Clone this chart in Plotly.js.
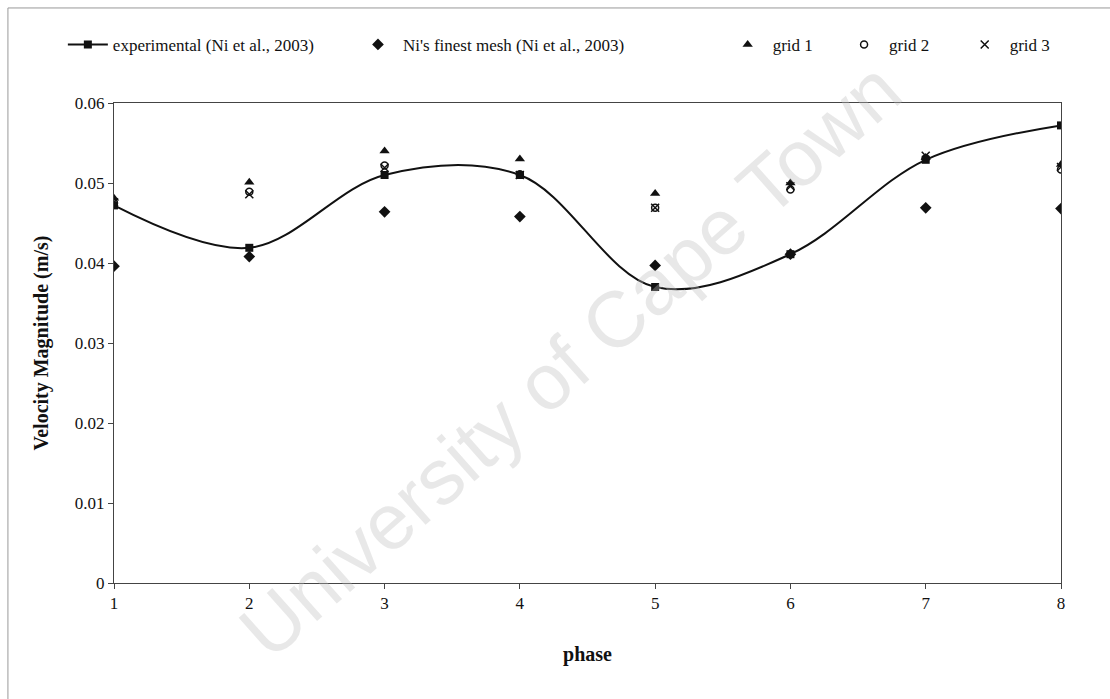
<!DOCTYPE html>
<html>
<head>
<meta charset="utf-8">
<script src="https://cdn.plot.ly/plotly-3.0.1.min.js"></script>
<style>
  html, body { margin: 0; padding: 0; background: #fff; }
  #chart { width: 1110px; height: 699px; }
</style>
</head>
<body>
<div id="chart"></div>
<script>
// Velocity magnitude per phase
const phases = [1, 2, 3, 4, 5, 6, 7, 8];
const experimental = [0.0472, 0.0419, 0.0510, 0.0510, 0.0370, 0.0411, 0.0529, 0.0572];
const niFinestMesh = [0.0396, 0.0408, 0.0464, 0.0458, 0.0397, 0.0411, 0.0469, 0.0468];
const grid1 = [0.0481, 0.0501, 0.0540, 0.0530, 0.0487, 0.0500, 0.0532, 0.0523];
const grid2 = [0.0475, 0.0489, 0.0522, 0.0511, 0.0469, 0.0492, 0.0531, 0.0517];
const grid3 = [0.0476, 0.0486, 0.0519, 0.0510, 0.0469, 0.0496, 0.0534, 0.0520];

const names = [
  'experimental (Ni et al., 2003)',
  "Ni's finest mesh (Ni et al., 2003)",
  'grid 1',
  'grid 2',
  'grid 3'
];

// trailing gaps between legend entries
const pad = n => '\u00a0'.repeat(n);
const legendNames = [names[0] + pad(8), names[1] + pad(22), names[2] + pad(5), names[3] + pad(6), names[4]];

const serif = 'Liberation Serif, Times New Roman, serif';

const traces = [
  {
    x: phases, y: experimental, name: legendNames[0], type: 'scatter', mode: 'lines+markers',
    line: { color: '#111', width: 2, shape: 'spline', smoothing: 1 },
    marker: { symbol: 'square', size: 8, color: '#111' }
  },
  {
    x: phases, y: niFinestMesh, name: legendNames[1], type: 'scatter', mode: 'markers',
    marker: { symbol: 'diamond', size: 9, color: '#111' }
  },
  {
    x: phases, y: grid1, name: legendNames[2], type: 'scatter', mode: 'markers',
    marker: { symbol: 'triangle-up', size: 9, color: '#111' }
  },
  {
    x: phases, y: grid2, name: legendNames[3], type: 'scatter', mode: 'markers',
    marker: { symbol: 'circle-open', size: 7, color: '#111', line: { width: 1.5 } }
  },
  {
    x: phases, y: grid3, name: legendNames[4], type: 'scatter', mode: 'markers',
    marker: { symbol: 'x-thin-open', size: 8, color: '#111', line: { width: 1.5 } }
  }
];

const layout = {
  width: 1110, height: 699,
  margin: { l: 114, r: 49, t: 103, b: 116 },
  paper_bgcolor: '#fff', plot_bgcolor: '#fff',
  font: { family: serif, size: 17, color: '#111' },
  showlegend: true,
  legend: {
    orientation: 'h', x: -0.054, xanchor: 'left', y: 1.121, yanchor: 'middle',
    font: { family: serif, size: 17, color: '#111' },
    itemwidth: 40, tracegroupgap: 0
  },
  xaxis: {
    range: [1, 8], tickvals: phases, ticktext: phases.map(String),
    showgrid: false, zeroline: false,
    showline: true, linecolor: '#444', linewidth: 1, mirror: true,
    ticks: 'outside', ticklen: 5, tickcolor: '#444',
    tickfont: { family: serif, size: 17 },
    title: { text: '<b>phase</b>', font: { family: serif, size: 20 }, standoff: 34 }
  },
  yaxis: {
    range: [0, 0.06], dtick: 0.01, tickformat: '.2~f',
    showgrid: false, zeroline: false,
    showline: true, linecolor: '#444', linewidth: 1, mirror: true,
    ticks: 'outside', ticklen: 5, tickcolor: '#444',
    tickfont: { family: serif, size: 17 },
    title: { text: '<b>Velocity Magnitude (m/s)</b>', font: { family: serif, size: 20 }, standoff: 20 }
  },
  shapes: [
    { type: 'rect', xref: 'paper', yref: 'paper', x0: -0.112, x1: 1.1, y0: -0.3, y1: 1.198,
      line: { color: '#999', width: 1 }, fillcolor: 'rgba(0,0,0,0)' }
  ],
  annotations: [
    { text: 'University of Cape Town', xref: 'paper', yref: 'paper', x: 0.482, y: 0.465,
      showarrow: false, textangle: -41.6,
      font: { family: 'Liberation Sans, Arial, sans-serif', size: 79, color: 'rgba(190,190,190,0.35)' } }
  ]
};

Plotly.newPlot('chart', traces, layout, { displayModeBar: false, staticPlot: true });
</script>
</body>
</html>
